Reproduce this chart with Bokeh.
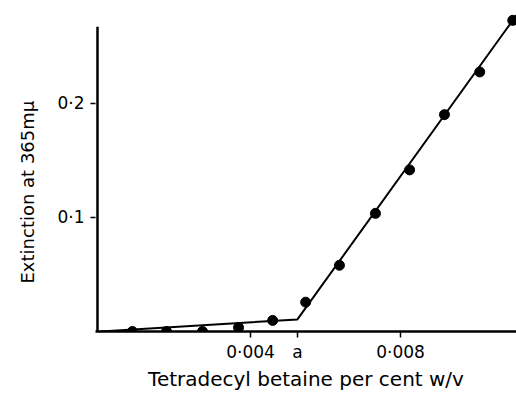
from bokeh.plotting import figure
from bokeh.models import FixedTicker, Range1d, Title
from bokeh.embed import file_html
from bokeh.resources import INLINE

# Data
conc = [0.00085, 0.00176, 0.00272, 0.00368, 0.00459, 0.00547, 0.00637,
        0.00733, 0.00824, 0.00917, 0.01011, 0.01099]
ext = [0.0, 0.0, 0.0, 0.0035, 0.0097, 0.0257, 0.058, 0.1035, 0.1416,
       0.190, 0.2274, 0.2726]
a_point = 0.00525
fit_x = [0.0, a_point, 0.01109]
fit_y = [0.0, 0.0106, 0.2772]
x_ticks = [0.004, a_point, 0.008]
x_tick_labels = ["0·004", "a", "0·008"]
y_ticks = [0.1, 0.2]
y_tick_labels = ["0·1", "0·2"]
x_title = "Tetradecyl betaine per cent w/v"
y_title = "Extinction at 365mμ"

FONT = "DejaVu Sans"

x_start = -0.000133
x_end = 0.01109
y_start = 0.0
y_end = 0.29

p = figure(width=516, height=394, output_backend="svg", toolbar_location=None,
           x_range=Range1d(x_start, x_end), y_range=Range1d(y_start, y_end),
           min_border_left=95, min_border_right=0, min_border_top=0,
           min_border_bottom=63)
p.outline_line_color = None
p.grid.visible = False
p.background_fill_color = "white"
p.border_fill_color = "white"

# y axis line drawn manually (shorter than frame)
p.line([-0.00008, -0.00008], [0.0, 0.267], line_color="black", line_width=2.5)

p.line(fit_x, fit_y, line_color="black", line_width=2)
p.scatter(conc, ext, size=10, color="black")

xa = p.xaxis[0]
xa.ticker = FixedTicker(ticks=x_ticks)
xa.major_label_overrides = {t: l for t, l in zip(x_ticks, x_tick_labels)}
xa.axis_line_width = 2.5
xa.axis_line_color = "black"
xa.major_tick_line_width = 1.5
xa.major_tick_out = 6
xa.major_tick_in = 0
xa.minor_tick_line_color = None
xa.major_label_text_font = FONT
xa.major_label_text_font_size = "17px"
xa.major_label_text_color = "black"
xa.major_label_standoff = 4
xa.axis_label = x_title
xa.axis_label_text_font = FONT
xa.axis_label_text_font_size = "20px"
xa.axis_label_text_font_style = "normal"
xa.axis_label_text_color = "black"
xa.axis_label_standoff = 2

ya = p.yaxis[0]
ya.ticker = FixedTicker(ticks=y_ticks)
ya.major_label_overrides = {t: l for t, l in zip(y_ticks, y_tick_labels)}
ya.axis_line_color = None
ya.major_tick_line_width = 1.5
ya.major_tick_out = 5
ya.major_tick_in = 0
ya.minor_tick_line_color = None
ya.major_label_text_font = FONT
ya.major_label_text_font_size = "17px"
ya.major_label_text_color = "black"
ya.major_label_standoff = 6

# y title as a left-side title, shifted down along the axis
p.add_layout(Title(text=y_title, align="left", offset=48, standoff=30,
                   vertical_align="top",
                   text_font=FONT, text_font_size="18px",
                   text_font_style="normal", text_color="black"), "left")

open("out.html", "w").write(file_html(p, INLINE))
